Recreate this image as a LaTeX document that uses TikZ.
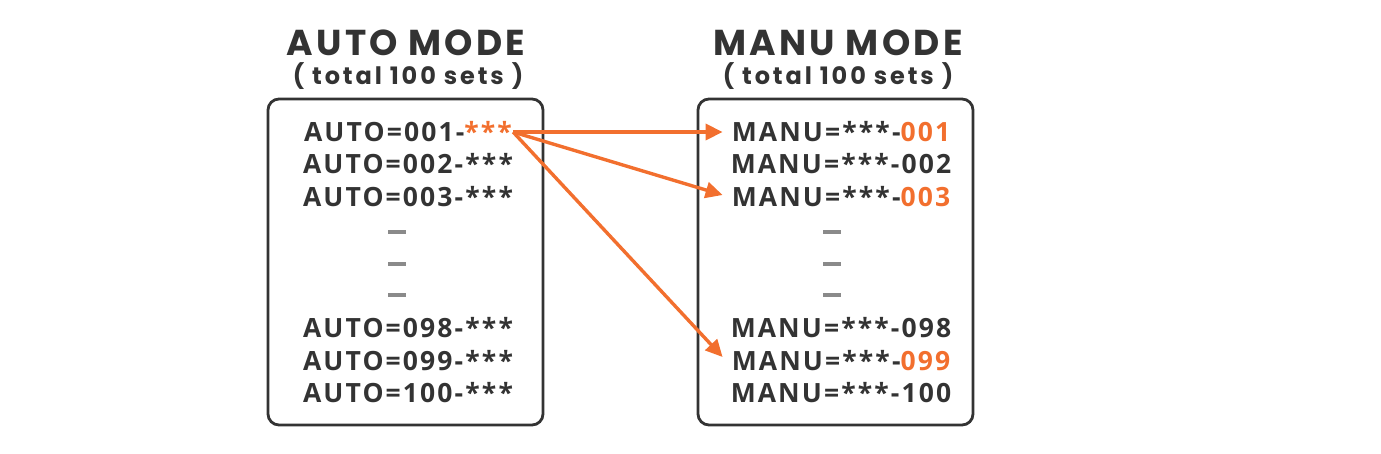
\documentclass[tikz,border=0pt]{standalone}
\usepackage{fontspec}
\setmainfont{Open Sans}[BoldFont={* Bold}]
\newfontfamily\headfont{Poppins}[BoldFont={* Bold}, LetterSpace=9]
\newfontfamily\subfont{Poppins}[BoldFont={* Bold}, LetterSpace=12]
\newfontfamily\entryfont{Open Sans}[BoldFont={* Bold}, LetterSpace=8]
\usetikzlibrary{arrows.meta}
\definecolor{ink}{HTML}{333333}
\definecolor{org}{HTML}{F26F2E}
\definecolor{dashgray}{HTML}{8A8A8A}
\tikzset{
  panel/.style={draw=ink, line width=2.8pt, rounded corners=11pt},
  title/.style={font=\headfont\bfseries\fontsize{36}{36}\selectfont, text=ink, anchor=base, inner sep=0pt},
  subtitle/.style={font=\subfont\bfseries\fontsize{24}{24}\selectfont, text=ink, anchor=base, inner sep=0pt},
  entry/.style={font=\entryfont\bfseries\fontsize{26.5}{26.5}\selectfont, text=ink, anchor=base, inner sep=0pt},
  gap/.style={fill=dashgray, minimum width=18pt, minimum height=3.5pt, inner sep=0pt},
  link/.style={draw=org, line width=3.4pt, -{Triangle[length=17pt,width=16pt]}},
}
\begin{document}
\begin{tikzpicture}[x=1pt,y=-1pt]
\useasboundingbox (0,0) rectangle (1381,453);
% panels
\draw[panel] (268,99) rectangle (543,425);
\draw[panel] (698,99) rectangle (973,425);
% titles
\node[title] (t1) at (406,55) {AUTO MODE};
\node[subtitle] (s1) at (408,84) {( total 100 sets )};
\node[title] (t2) at (838,55) {MANU MODE};
\node[subtitle] (s2) at (838,84) {( total 100 sets )};
% left entries
\node[entry] (a1) at (408,141) {AUTO=001-\textcolor{org}{***}};
\node[entry] (a2) at (408,173) {AUTO=002-***};
\node[entry] (a3) at (408,206) {AUTO=003-***};
\node[gap] (ga1) at (397,232) {};
\node[gap] (ga2) at (397,264) {};
\node[gap] (ga3) at (397,295) {};
\node[entry] (a98) at (408,337) {AUTO=098-***};
\node[entry] (a99) at (408,370) {AUTO=099-***};
\node[entry] (a100) at (408,402) {AUTO=100-***};
% right entries
\node[entry] (m1) at (841,141) {MANU=***-\textcolor{org}{001}};
\node[entry] (m2) at (841,173) {MANU=***-002};
\node[entry] (m3) at (841,206) {MANU=***-\textcolor{org}{003}};
\node[gap] (gm1) at (832,232) {};
\node[gap] (gm2) at (832,264) {};
\node[gap] (gm3) at (832,295) {};
\node[entry] (m98) at (841,337) {MANU=***-098};
\node[entry] (m99) at (841,370) {MANU=***-\textcolor{org}{099}};
\node[entry] (m100) at (841,402) {MANU=***-100};
% connectors
\coordinate (src) at ([xshift=1pt,yshift=9pt]a1.base east);
\draw[link] (src) -- ([xshift=-9pt,yshift=9pt]m1.base west);
\draw[link] (src) -- ([xshift=-9pt,yshift=11pt]m3.base west);
\draw[link] (src) -- ([xshift=-9pt,yshift=13pt]m99.base west);
\end{tikzpicture}
\end{document}
